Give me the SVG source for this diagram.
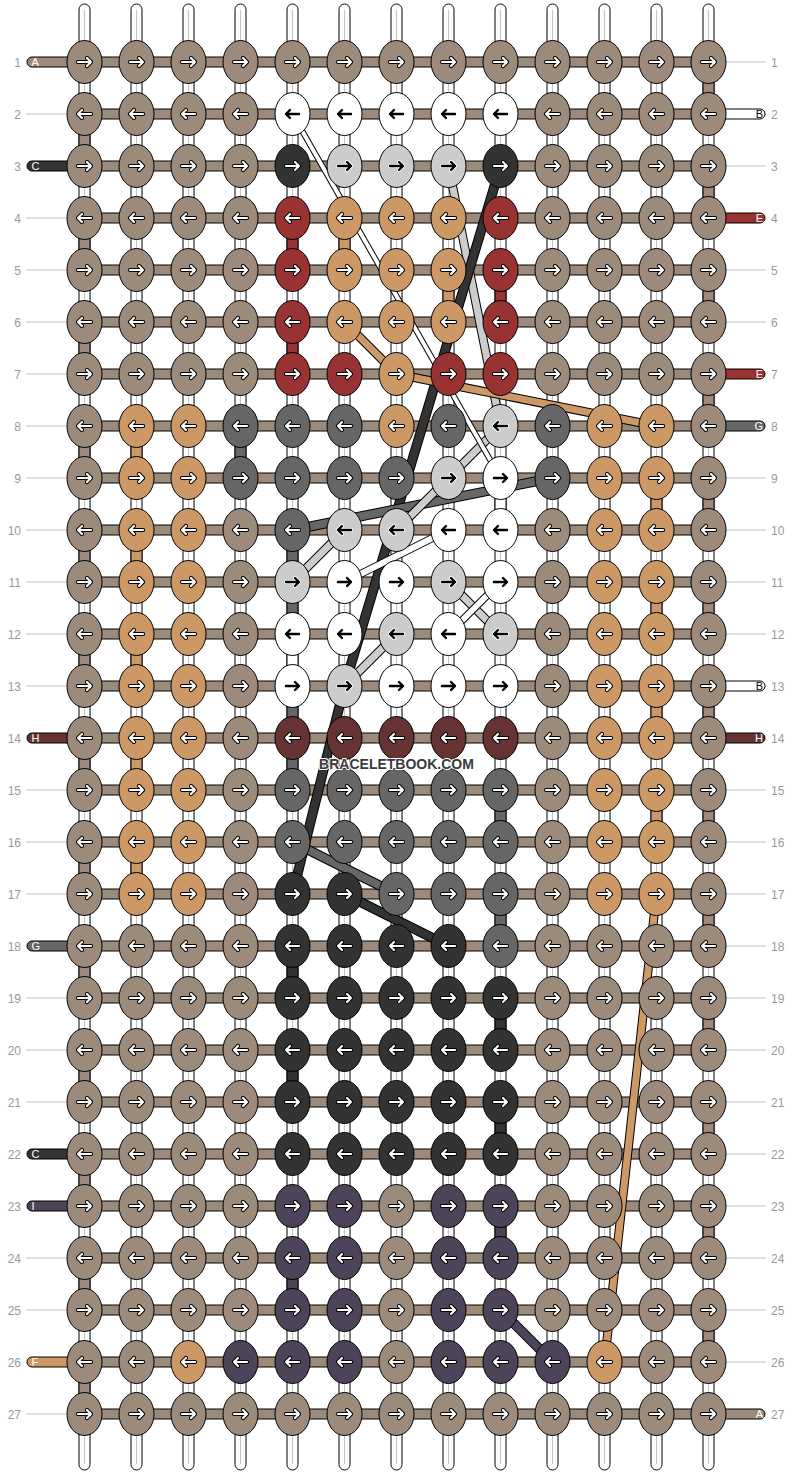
<svg xmlns="http://www.w3.org/2000/svg" xmlns:xlink="http://www.w3.org/1999/xlink" width="792" height="1476" viewBox="0 0 792 1476">
<style>
.vs{fill:#fff;stroke:#000;stroke-width:1}
.vc{fill:none;stroke:#c4c4c4;stroke-width:1.2}
.hb{fill:#9c8b7a;stroke:#000;stroke-width:1}
.cn{stroke:#000;stroke-width:1}
.ln{fill:none;stroke:#c0c0c0;stroke-width:1}
.b{fill:#9c8b7a}.w{fill:#fff}.k{fill:#333}.l{fill:#ccc}.r{fill:#993333}.t{fill:#cc9966}.g{fill:#666}.m{fill:#663333}.p{fill:#4d4459}
.num{font-family:"Liberation Sans",Arial,sans-serif;font-size:12px;fill:#999}
.lt{font-family:"Liberation Sans",Arial,sans-serif;font-size:11px;fill:#fff}
.ltb{font-family:"Liberation Sans",Arial,sans-serif;font-size:11px;fill:#000}
.wm{font-family:"Liberation Sans",Arial,sans-serif;font-size:14px;font-weight:bold;fill:#3a3a3a;stroke:#fff;stroke-width:2;paint-order:stroke;stroke-linejoin:round}
</style>
<defs>
<ellipse id="e" rx="17.5" ry="21.5" stroke="#000" stroke-width="1"/>
<g id="wr" fill="none" stroke-linecap="round" stroke-linejoin="round"><path d="M-6.5,0H6.5M2.5,-4L6.5,0L2.5,4" stroke="#000" stroke-width="4.2"/><path d="M-6.5,0H6.5M2.5,-4L6.5,0L2.5,4" stroke="#fff" stroke-width="2.2"/></g>
<g id="wl" fill="none" stroke-linecap="round" stroke-linejoin="round"><path d="M6.5,0H-6.5M-2.5,-4L-6.5,0L-2.5,4" stroke="#000" stroke-width="4.2"/><path d="M6.5,0H-6.5M-2.5,-4L-6.5,0L-2.5,4" stroke="#fff" stroke-width="2.2"/></g>
<g id="br" fill="none" stroke-linecap="round" stroke-linejoin="round"><path d="M-6.5,0H6.5M2.5,-4L6.5,0L2.5,4" stroke="#fff" stroke-width="4.2"/><path d="M-6.5,0H6.5M2.5,-4L6.5,0L2.5,4" stroke="#000" stroke-width="2.4"/></g>
<g id="bl" fill="none" stroke-linecap="round" stroke-linejoin="round"><path d="M6.5,0H-6.5M-2.5,-4L-6.5,0L-2.5,4" stroke="#fff" stroke-width="4.2"/><path d="M6.5,0H-6.5M-2.5,-4L-6.5,0L-2.5,4" stroke="#000" stroke-width="2.4"/></g>
</defs>
<rect width="792" height="1476" fill="#fff"/>
<g id="connectors">
<g id="strings">
<rect class="vs" x="79" y="4" width="11" height="1466" rx="5.5"/>
<rect class="vs" x="131" y="4" width="11" height="1466" rx="5.5"/>
<rect class="vs" x="183" y="4" width="11" height="1466" rx="5.5"/>
<rect class="vs" x="235" y="4" width="11" height="1466" rx="5.5"/>
<rect class="vs" x="287" y="4" width="11" height="1466" rx="5.5"/>
<rect class="vs" x="339" y="4" width="11" height="1466" rx="5.5"/>
<rect class="vs" x="391" y="4" width="11" height="1466" rx="5.5"/>
<rect class="vs" x="443" y="4" width="11" height="1466" rx="5.5"/>
<rect class="vs" x="495" y="4" width="11" height="1466" rx="5.5"/>
<rect class="vs" x="547" y="4" width="11" height="1466" rx="5.5"/>
<rect class="vs" x="599" y="4" width="11" height="1466" rx="5.5"/>
<rect class="vs" x="651" y="4" width="11" height="1466" rx="5.5"/>
<rect class="vs" x="703" y="4" width="11" height="1466" rx="5.5"/>
<path class="vc" d="M84.5 10V1464M136.5 10V1464M188.5 10V1464M240.5 10V1464M292.5 10V1464M344.5 10V1464M396.5 10V1464M448.5 10V1464M500.5 10V1464M552.5 10V1464M604.5 10V1464M656.5 10V1464M708.5 10V1464"/>
</g>
<g id="rowbars">
<rect class="hb" x="84.5" y="57" width="624" height="10"/>
<rect class="hb" x="84.5" y="109" width="624" height="10"/>
<rect class="hb" x="84.5" y="161" width="624" height="10"/>
<rect class="hb" x="84.5" y="213" width="624" height="10"/>
<rect class="hb" x="84.5" y="265" width="624" height="10"/>
<rect class="hb" x="84.5" y="317" width="624" height="10"/>
<rect class="hb" x="84.5" y="369" width="624" height="10"/>
<rect class="hb" x="84.5" y="421" width="624" height="10"/>
<rect class="hb" x="84.5" y="473" width="624" height="10"/>
<rect class="hb" x="84.5" y="525" width="624" height="10"/>
<rect class="hb" x="84.5" y="577" width="624" height="10"/>
<rect class="hb" x="84.5" y="629" width="624" height="10"/>
<rect class="hb" x="84.5" y="681" width="624" height="10"/>
<rect class="hb" x="84.5" y="733" width="624" height="10"/>
<rect class="hb" x="84.5" y="785" width="624" height="10"/>
<rect class="hb" x="84.5" y="837" width="624" height="10"/>
<rect class="hb" x="84.5" y="889" width="624" height="10"/>
<rect class="hb" x="84.5" y="941" width="624" height="10"/>
<rect class="hb" x="84.5" y="993" width="624" height="10"/>
<rect class="hb" x="84.5" y="1045" width="624" height="10"/>
<rect class="hb" x="84.5" y="1097" width="624" height="10"/>
<rect class="hb" x="84.5" y="1149" width="624" height="10"/>
<rect class="hb" x="84.5" y="1201" width="624" height="10"/>
<rect class="hb" x="84.5" y="1253" width="624" height="10"/>
<rect class="hb" x="84.5" y="1305" width="624" height="10"/>
<rect class="hb" x="84.5" y="1357" width="624" height="10"/>
<rect class="hb" x="84.5" y="1409" width="624" height="10"/>
</g>
<g id="labelbars">
<rect class="cn b" x="27" y="57" width="55" height="10" rx="5"/>
<rect class="cn k" x="27" y="161" width="55" height="10" rx="5"/>
<rect class="cn m" x="27" y="733" width="55" height="10" rx="5"/>
<rect class="cn g" x="27" y="941" width="55" height="10" rx="5"/>
<rect class="cn k" x="27" y="1149" width="55" height="10" rx="5"/>
<rect class="cn p" x="27" y="1201" width="55" height="10" rx="5"/>
<rect class="cn t" x="27" y="1357" width="55" height="10" rx="5"/>
<rect class="cn w" x="710" y="109" width="55" height="10" rx="5"/>
<rect class="cn r" x="710" y="213" width="55" height="10" rx="5"/>
<rect class="cn r" x="710" y="369" width="55" height="10" rx="5"/>
<rect class="cn g" x="710" y="421" width="55" height="10" rx="5"/>
<rect class="cn w" x="710" y="681" width="55" height="10" rx="5"/>
<rect class="cn m" x="710" y="733" width="55" height="10" rx="5"/>
<rect class="cn b" x="710" y="1409" width="55" height="10" rx="5"/>
<path class="ln" d="M26 114H67M26 218H67M26 270H67M26 322H67M26 374H67M26 426H67M26 478H67M26 530H67M26 582H67M26 634H67M26 686H67M26 790H67M26 842H67M26 894H67M26 998H67M26 1050H67M26 1102H67M26 1258H67M26 1310H67M26 1414H67"/>
<path class="ln" d="M727 62H766M727 166H766M727 270H766M727 322H766M727 478H766M727 530H766M727 582H766M727 634H766M727 790H766M727 842H766M727 894H766M727 946H766M727 998H766M727 1050H766M727 1102H766M727 1154H766M727 1206H766M727 1258H766M727 1310H766M727 1362H766"/>
</g>
<g id="drops">
<rect class="cn b" x="703" y="78" width="11" height="20"/>
<rect class="cn b" x="79" y="130" width="11" height="20"/>
<rect class="cn b" x="703" y="182" width="11" height="20"/>
<rect class="cn b" x="79" y="234" width="11" height="20"/>
<rect class="cn b" x="703" y="286" width="11" height="20"/>
<rect class="cn b" x="79" y="338" width="11" height="20"/>
<rect class="cn b" x="703" y="390" width="11" height="20"/>
<rect class="cn b" x="79" y="442" width="11" height="20"/>
<rect class="cn b" x="703" y="494" width="11" height="20"/>
<rect class="cn b" x="79" y="546" width="11" height="20"/>
<rect class="cn b" x="703" y="598" width="11" height="20"/>
<rect class="cn b" x="79" y="650" width="11" height="20"/>
<rect class="cn b" x="703" y="702" width="11" height="20"/>
<rect class="cn b" x="79" y="754" width="11" height="20"/>
<rect class="cn b" x="703" y="806" width="11" height="20"/>
<rect class="cn b" x="79" y="858" width="11" height="20"/>
<rect class="cn b" x="703" y="910" width="11" height="20"/>
<rect class="cn b" x="79" y="962" width="11" height="20"/>
<rect class="cn b" x="703" y="1014" width="11" height="20"/>
<rect class="cn b" x="79" y="1066" width="11" height="20"/>
<rect class="cn b" x="703" y="1118" width="11" height="20"/>
<rect class="cn b" x="79" y="1170" width="11" height="20"/>
<rect class="cn b" x="703" y="1222" width="11" height="20"/>
<rect class="cn b" x="79" y="1274" width="11" height="20"/>
<rect class="cn b" x="703" y="1326" width="11" height="20"/>
<rect class="cn b" x="79" y="1378" width="11" height="20"/>
<rect class="cn r" x="287" y="234" width="11" height="20"/>
<rect class="cn r" x="495" y="286" width="11" height="20"/>
<rect class="cn r" x="287" y="338" width="11" height="20"/>
<rect class="cn t" x="339" y="234" width="11" height="20"/>
<rect class="cn t" x="443" y="286" width="11" height="20"/>
<rect class="cn t" x="131" y="442" width="11" height="20"/>
<rect class="cn t" x="651" y="494" width="11" height="20"/>
<rect class="cn t" x="131" y="546" width="11" height="20"/>
<rect class="cn t" x="651" y="598" width="11" height="20"/>
<rect class="cn t" x="131" y="650" width="11" height="20"/>
<rect class="cn t" x="651" y="702" width="11" height="20"/>
<rect class="cn t" x="131" y="754" width="11" height="20"/>
<rect class="cn t" x="651" y="806" width="11" height="20"/>
<rect class="cn t" x="131" y="858" width="11" height="20"/>
<rect class="cn g" x="235" y="442" width="11" height="20"/>
<rect class="cn g" x="287" y="546" width="11" height="20"/>
<rect class="cn g" x="287" y="598" width="11" height="20"/>
<rect class="cn g" x="287" y="702" width="11" height="20"/>
<rect class="cn g" x="287" y="754" width="11" height="20"/>
<rect class="cn g" x="495" y="806" width="11" height="20"/>
<rect class="cn g" x="495" y="910" width="11" height="20"/>
<rect class="cn w" x="495" y="494" width="11" height="20"/>
<rect class="cn w" x="287" y="650" width="11" height="20"/>
<rect class="cn k" x="287" y="962" width="11" height="20"/>
<rect class="cn k" x="495" y="1014" width="11" height="20"/>
<rect class="cn k" x="287" y="1066" width="11" height="20"/>
<rect class="cn k" x="495" y="1118" width="11" height="20"/>
<rect class="cn p" x="495" y="1222" width="11" height="20"/>
<rect class="cn p" x="287" y="1274" width="11" height="20"/>
</g>
<g id="carried" fill="none" stroke-linecap="round" stroke-linejoin="round">
<path d="M448.5 166L500.5 426" stroke="#000" stroke-width="9"/><path d="M448.5 166L500.5 426" stroke="#ccc" stroke-width="7"/>
<path d="M500.5 166L344.5 686L292.5 894" stroke="#000" stroke-width="10"/><path d="M500.5 166L344.5 686L292.5 894" stroke="#333" stroke-width="8"/>
<path d="M552.5 478L292.5 530" stroke="#000" stroke-width="10"/><path d="M552.5 478L292.5 530" stroke="#666" stroke-width="8"/>
<path d="M500.5 426L396.5 530" stroke="#000" stroke-width="9"/><path d="M500.5 426L396.5 530" stroke="#ccc" stroke-width="7"/>
<path d="M344.5 530L292.5 582" stroke="#000" stroke-width="9"/><path d="M344.5 530L292.5 582" stroke="#ccc" stroke-width="7"/>
<path d="M448.5 530L344.5 582" stroke="#000" stroke-width="8"/><path d="M448.5 530L344.5 582" stroke="#fff" stroke-width="6"/>
<path d="M292.5 114L500.5 478" stroke="#000" stroke-width="6"/><path d="M292.5 114L500.5 478" stroke="#fff" stroke-width="4"/>
<path d="M448.5 582L500.5 634" stroke="#000" stroke-width="9"/><path d="M448.5 582L500.5 634" stroke="#ccc" stroke-width="7"/>
<path d="M500.5 582L448.5 634" stroke="#000" stroke-width="8"/><path d="M500.5 582L448.5 634" stroke="#fff" stroke-width="6"/>
<path d="M396.5 634L344.5 686" stroke="#000" stroke-width="9"/><path d="M396.5 634L344.5 686" stroke="#ccc" stroke-width="7"/>
<path d="M344.5 322L396.5 374L656.5 426" stroke="#000" stroke-width="9"/><path d="M344.5 322L396.5 374L656.5 426" stroke="#cc9966" stroke-width="7"/>
<path d="M344.5 894L448.5 946" stroke="#000" stroke-width="10"/><path d="M344.5 894L448.5 946" stroke="#333" stroke-width="8"/>
<path d="M292.5 842L396.5 894" stroke="#000" stroke-width="10"/><path d="M292.5 842L396.5 894" stroke="#666" stroke-width="8"/>
<path d="M656.5 894L604.5 1362" stroke="#000" stroke-width="9"/><path d="M656.5 894L604.5 1362" stroke="#cc9966" stroke-width="7"/>
<path d="M500.5 1310L552.5 1362" stroke="#000" stroke-width="10"/><path d="M500.5 1310L552.5 1362" stroke="#4d4459" stroke-width="8"/>
</g>
</g>
<g id="knots">
<g id="k1-1" transform="translate(84.5,62)"><use href="#e" class="b"/><use href="#wr"/></g>
<g id="k1-2" transform="translate(136.5,62)"><use href="#e" class="b"/><use href="#wr"/></g>
<g id="k1-3" transform="translate(188.5,62)"><use href="#e" class="b"/><use href="#wr"/></g>
<g id="k1-4" transform="translate(240.5,62)"><use href="#e" class="b"/><use href="#wr"/></g>
<g id="k1-5" transform="translate(292.5,62)"><use href="#e" class="b"/><use href="#wr"/></g>
<g id="k1-6" transform="translate(344.5,62)"><use href="#e" class="b"/><use href="#wr"/></g>
<g id="k1-7" transform="translate(396.5,62)"><use href="#e" class="b"/><use href="#wr"/></g>
<g id="k1-8" transform="translate(448.5,62)"><use href="#e" class="b"/><use href="#wr"/></g>
<g id="k1-9" transform="translate(500.5,62)"><use href="#e" class="b"/><use href="#wr"/></g>
<g id="k1-10" transform="translate(552.5,62)"><use href="#e" class="b"/><use href="#wr"/></g>
<g id="k1-11" transform="translate(604.5,62)"><use href="#e" class="b"/><use href="#wr"/></g>
<g id="k1-12" transform="translate(656.5,62)"><use href="#e" class="b"/><use href="#wr"/></g>
<g id="k1-13" transform="translate(708.5,62)"><use href="#e" class="b"/><use href="#wr"/></g>
<g id="k2-1" transform="translate(84.5,114)"><use href="#e" class="b"/><use href="#wl"/></g>
<g id="k2-2" transform="translate(136.5,114)"><use href="#e" class="b"/><use href="#wl"/></g>
<g id="k2-3" transform="translate(188.5,114)"><use href="#e" class="b"/><use href="#wl"/></g>
<g id="k2-4" transform="translate(240.5,114)"><use href="#e" class="b"/><use href="#wl"/></g>
<g id="k2-5" transform="translate(292.5,114)"><use href="#e" class="w"/><use href="#bl"/></g>
<g id="k2-6" transform="translate(344.5,114)"><use href="#e" class="w"/><use href="#bl"/></g>
<g id="k2-7" transform="translate(396.5,114)"><use href="#e" class="w"/><use href="#bl"/></g>
<g id="k2-8" transform="translate(448.5,114)"><use href="#e" class="w"/><use href="#bl"/></g>
<g id="k2-9" transform="translate(500.5,114)"><use href="#e" class="w"/><use href="#bl"/></g>
<g id="k2-10" transform="translate(552.5,114)"><use href="#e" class="b"/><use href="#wl"/></g>
<g id="k2-11" transform="translate(604.5,114)"><use href="#e" class="b"/><use href="#wl"/></g>
<g id="k2-12" transform="translate(656.5,114)"><use href="#e" class="b"/><use href="#wl"/></g>
<g id="k2-13" transform="translate(708.5,114)"><use href="#e" class="b"/><use href="#wl"/></g>
<g id="k3-1" transform="translate(84.5,166)"><use href="#e" class="b"/><use href="#wr"/></g>
<g id="k3-2" transform="translate(136.5,166)"><use href="#e" class="b"/><use href="#wr"/></g>
<g id="k3-3" transform="translate(188.5,166)"><use href="#e" class="b"/><use href="#wr"/></g>
<g id="k3-4" transform="translate(240.5,166)"><use href="#e" class="b"/><use href="#wr"/></g>
<g id="k3-5" transform="translate(292.5,166)"><use href="#e" class="k"/><use href="#wr"/></g>
<g id="k3-6" transform="translate(344.5,166)"><use href="#e" class="l"/><use href="#br"/></g>
<g id="k3-7" transform="translate(396.5,166)"><use href="#e" class="l"/><use href="#br"/></g>
<g id="k3-8" transform="translate(448.5,166)"><use href="#e" class="l"/><use href="#br"/></g>
<g id="k3-9" transform="translate(500.5,166)"><use href="#e" class="k"/><use href="#wr"/></g>
<g id="k3-10" transform="translate(552.5,166)"><use href="#e" class="b"/><use href="#wr"/></g>
<g id="k3-11" transform="translate(604.5,166)"><use href="#e" class="b"/><use href="#wr"/></g>
<g id="k3-12" transform="translate(656.5,166)"><use href="#e" class="b"/><use href="#wr"/></g>
<g id="k3-13" transform="translate(708.5,166)"><use href="#e" class="b"/><use href="#wr"/></g>
<g id="k4-1" transform="translate(84.5,218)"><use href="#e" class="b"/><use href="#wl"/></g>
<g id="k4-2" transform="translate(136.5,218)"><use href="#e" class="b"/><use href="#wl"/></g>
<g id="k4-3" transform="translate(188.5,218)"><use href="#e" class="b"/><use href="#wl"/></g>
<g id="k4-4" transform="translate(240.5,218)"><use href="#e" class="b"/><use href="#wl"/></g>
<g id="k4-5" transform="translate(292.5,218)"><use href="#e" class="r"/><use href="#wl"/></g>
<g id="k4-6" transform="translate(344.5,218)"><use href="#e" class="t"/><use href="#wl"/></g>
<g id="k4-7" transform="translate(396.5,218)"><use href="#e" class="t"/><use href="#wl"/></g>
<g id="k4-8" transform="translate(448.5,218)"><use href="#e" class="t"/><use href="#wl"/></g>
<g id="k4-9" transform="translate(500.5,218)"><use href="#e" class="r"/><use href="#wl"/></g>
<g id="k4-10" transform="translate(552.5,218)"><use href="#e" class="b"/><use href="#wl"/></g>
<g id="k4-11" transform="translate(604.5,218)"><use href="#e" class="b"/><use href="#wl"/></g>
<g id="k4-12" transform="translate(656.5,218)"><use href="#e" class="b"/><use href="#wl"/></g>
<g id="k4-13" transform="translate(708.5,218)"><use href="#e" class="b"/><use href="#wl"/></g>
<g id="k5-1" transform="translate(84.5,270)"><use href="#e" class="b"/><use href="#wr"/></g>
<g id="k5-2" transform="translate(136.5,270)"><use href="#e" class="b"/><use href="#wr"/></g>
<g id="k5-3" transform="translate(188.5,270)"><use href="#e" class="b"/><use href="#wr"/></g>
<g id="k5-4" transform="translate(240.5,270)"><use href="#e" class="b"/><use href="#wr"/></g>
<g id="k5-5" transform="translate(292.5,270)"><use href="#e" class="r"/><use href="#wr"/></g>
<g id="k5-6" transform="translate(344.5,270)"><use href="#e" class="t"/><use href="#wr"/></g>
<g id="k5-7" transform="translate(396.5,270)"><use href="#e" class="t"/><use href="#wr"/></g>
<g id="k5-8" transform="translate(448.5,270)"><use href="#e" class="t"/><use href="#wr"/></g>
<g id="k5-9" transform="translate(500.5,270)"><use href="#e" class="r"/><use href="#wr"/></g>
<g id="k5-10" transform="translate(552.5,270)"><use href="#e" class="b"/><use href="#wr"/></g>
<g id="k5-11" transform="translate(604.5,270)"><use href="#e" class="b"/><use href="#wr"/></g>
<g id="k5-12" transform="translate(656.5,270)"><use href="#e" class="b"/><use href="#wr"/></g>
<g id="k5-13" transform="translate(708.5,270)"><use href="#e" class="b"/><use href="#wr"/></g>
<g id="k6-1" transform="translate(84.5,322)"><use href="#e" class="b"/><use href="#wl"/></g>
<g id="k6-2" transform="translate(136.5,322)"><use href="#e" class="b"/><use href="#wl"/></g>
<g id="k6-3" transform="translate(188.5,322)"><use href="#e" class="b"/><use href="#wl"/></g>
<g id="k6-4" transform="translate(240.5,322)"><use href="#e" class="b"/><use href="#wl"/></g>
<g id="k6-5" transform="translate(292.5,322)"><use href="#e" class="r"/><use href="#wl"/></g>
<g id="k6-6" transform="translate(344.5,322)"><use href="#e" class="t"/><use href="#wl"/></g>
<g id="k6-7" transform="translate(396.5,322)"><use href="#e" class="t"/><use href="#wl"/></g>
<g id="k6-8" transform="translate(448.5,322)"><use href="#e" class="t"/><use href="#wl"/></g>
<g id="k6-9" transform="translate(500.5,322)"><use href="#e" class="r"/><use href="#wl"/></g>
<g id="k6-10" transform="translate(552.5,322)"><use href="#e" class="b"/><use href="#wl"/></g>
<g id="k6-11" transform="translate(604.5,322)"><use href="#e" class="b"/><use href="#wl"/></g>
<g id="k6-12" transform="translate(656.5,322)"><use href="#e" class="b"/><use href="#wl"/></g>
<g id="k6-13" transform="translate(708.5,322)"><use href="#e" class="b"/><use href="#wl"/></g>
<g id="k7-1" transform="translate(84.5,374)"><use href="#e" class="b"/><use href="#wr"/></g>
<g id="k7-2" transform="translate(136.5,374)"><use href="#e" class="b"/><use href="#wr"/></g>
<g id="k7-3" transform="translate(188.5,374)"><use href="#e" class="b"/><use href="#wr"/></g>
<g id="k7-4" transform="translate(240.5,374)"><use href="#e" class="b"/><use href="#wr"/></g>
<g id="k7-5" transform="translate(292.5,374)"><use href="#e" class="r"/><use href="#wr"/></g>
<g id="k7-6" transform="translate(344.5,374)"><use href="#e" class="r"/><use href="#wr"/></g>
<g id="k7-7" transform="translate(396.5,374)"><use href="#e" class="t"/><use href="#wr"/></g>
<g id="k7-8" transform="translate(448.5,374)"><use href="#e" class="r"/><use href="#wr"/></g>
<g id="k7-9" transform="translate(500.5,374)"><use href="#e" class="r"/><use href="#wr"/></g>
<g id="k7-10" transform="translate(552.5,374)"><use href="#e" class="b"/><use href="#wr"/></g>
<g id="k7-11" transform="translate(604.5,374)"><use href="#e" class="b"/><use href="#wr"/></g>
<g id="k7-12" transform="translate(656.5,374)"><use href="#e" class="b"/><use href="#wr"/></g>
<g id="k7-13" transform="translate(708.5,374)"><use href="#e" class="b"/><use href="#wr"/></g>
<g id="k8-1" transform="translate(84.5,426)"><use href="#e" class="b"/><use href="#wl"/></g>
<g id="k8-2" transform="translate(136.5,426)"><use href="#e" class="t"/><use href="#wl"/></g>
<g id="k8-3" transform="translate(188.5,426)"><use href="#e" class="t"/><use href="#wl"/></g>
<g id="k8-4" transform="translate(240.5,426)"><use href="#e" class="g"/><use href="#wl"/></g>
<g id="k8-5" transform="translate(292.5,426)"><use href="#e" class="g"/><use href="#wl"/></g>
<g id="k8-6" transform="translate(344.5,426)"><use href="#e" class="g"/><use href="#wl"/></g>
<g id="k8-7" transform="translate(396.5,426)"><use href="#e" class="t"/><use href="#wl"/></g>
<g id="k8-8" transform="translate(448.5,426)"><use href="#e" class="g"/><use href="#wl"/></g>
<g id="k8-9" transform="translate(500.5,426)"><use href="#e" class="l"/><use href="#bl"/></g>
<g id="k8-10" transform="translate(552.5,426)"><use href="#e" class="g"/><use href="#wl"/></g>
<g id="k8-11" transform="translate(604.5,426)"><use href="#e" class="t"/><use href="#wl"/></g>
<g id="k8-12" transform="translate(656.5,426)"><use href="#e" class="t"/><use href="#wl"/></g>
<g id="k8-13" transform="translate(708.5,426)"><use href="#e" class="b"/><use href="#wl"/></g>
<g id="k9-1" transform="translate(84.5,478)"><use href="#e" class="b"/><use href="#wr"/></g>
<g id="k9-2" transform="translate(136.5,478)"><use href="#e" class="t"/><use href="#wr"/></g>
<g id="k9-3" transform="translate(188.5,478)"><use href="#e" class="t"/><use href="#wr"/></g>
<g id="k9-4" transform="translate(240.5,478)"><use href="#e" class="g"/><use href="#wr"/></g>
<g id="k9-5" transform="translate(292.5,478)"><use href="#e" class="g"/><use href="#wr"/></g>
<g id="k9-6" transform="translate(344.5,478)"><use href="#e" class="g"/><use href="#wr"/></g>
<g id="k9-7" transform="translate(396.5,478)"><use href="#e" class="g"/><use href="#wr"/></g>
<g id="k9-8" transform="translate(448.5,478)"><use href="#e" class="l"/><use href="#br"/></g>
<g id="k9-9" transform="translate(500.5,478)"><use href="#e" class="w"/><use href="#br"/></g>
<g id="k9-10" transform="translate(552.5,478)"><use href="#e" class="g"/><use href="#wr"/></g>
<g id="k9-11" transform="translate(604.5,478)"><use href="#e" class="t"/><use href="#wr"/></g>
<g id="k9-12" transform="translate(656.5,478)"><use href="#e" class="t"/><use href="#wr"/></g>
<g id="k9-13" transform="translate(708.5,478)"><use href="#e" class="b"/><use href="#wr"/></g>
<g id="k10-1" transform="translate(84.5,530)"><use href="#e" class="b"/><use href="#wl"/></g>
<g id="k10-2" transform="translate(136.5,530)"><use href="#e" class="t"/><use href="#wl"/></g>
<g id="k10-3" transform="translate(188.5,530)"><use href="#e" class="t"/><use href="#wl"/></g>
<g id="k10-4" transform="translate(240.5,530)"><use href="#e" class="b"/><use href="#wl"/></g>
<g id="k10-5" transform="translate(292.5,530)"><use href="#e" class="g"/><use href="#wl"/></g>
<g id="k10-6" transform="translate(344.5,530)"><use href="#e" class="l"/><use href="#bl"/></g>
<g id="k10-7" transform="translate(396.5,530)"><use href="#e" class="l"/><use href="#bl"/></g>
<g id="k10-8" transform="translate(448.5,530)"><use href="#e" class="w"/><use href="#bl"/></g>
<g id="k10-9" transform="translate(500.5,530)"><use href="#e" class="w"/><use href="#bl"/></g>
<g id="k10-10" transform="translate(552.5,530)"><use href="#e" class="b"/><use href="#wl"/></g>
<g id="k10-11" transform="translate(604.5,530)"><use href="#e" class="t"/><use href="#wl"/></g>
<g id="k10-12" transform="translate(656.5,530)"><use href="#e" class="t"/><use href="#wl"/></g>
<g id="k10-13" transform="translate(708.5,530)"><use href="#e" class="b"/><use href="#wl"/></g>
<g id="k11-1" transform="translate(84.5,582)"><use href="#e" class="b"/><use href="#wr"/></g>
<g id="k11-2" transform="translate(136.5,582)"><use href="#e" class="t"/><use href="#wr"/></g>
<g id="k11-3" transform="translate(188.5,582)"><use href="#e" class="t"/><use href="#wr"/></g>
<g id="k11-4" transform="translate(240.5,582)"><use href="#e" class="b"/><use href="#wr"/></g>
<g id="k11-5" transform="translate(292.5,582)"><use href="#e" class="l"/><use href="#br"/></g>
<g id="k11-6" transform="translate(344.5,582)"><use href="#e" class="w"/><use href="#br"/></g>
<g id="k11-7" transform="translate(396.5,582)"><use href="#e" class="w"/><use href="#br"/></g>
<g id="k11-8" transform="translate(448.5,582)"><use href="#e" class="l"/><use href="#br"/></g>
<g id="k11-9" transform="translate(500.5,582)"><use href="#e" class="w"/><use href="#br"/></g>
<g id="k11-10" transform="translate(552.5,582)"><use href="#e" class="b"/><use href="#wr"/></g>
<g id="k11-11" transform="translate(604.5,582)"><use href="#e" class="t"/><use href="#wr"/></g>
<g id="k11-12" transform="translate(656.5,582)"><use href="#e" class="t"/><use href="#wr"/></g>
<g id="k11-13" transform="translate(708.5,582)"><use href="#e" class="b"/><use href="#wr"/></g>
<g id="k12-1" transform="translate(84.5,634)"><use href="#e" class="b"/><use href="#wl"/></g>
<g id="k12-2" transform="translate(136.5,634)"><use href="#e" class="t"/><use href="#wl"/></g>
<g id="k12-3" transform="translate(188.5,634)"><use href="#e" class="t"/><use href="#wl"/></g>
<g id="k12-4" transform="translate(240.5,634)"><use href="#e" class="b"/><use href="#wl"/></g>
<g id="k12-5" transform="translate(292.5,634)"><use href="#e" class="w"/><use href="#bl"/></g>
<g id="k12-6" transform="translate(344.5,634)"><use href="#e" class="w"/><use href="#bl"/></g>
<g id="k12-7" transform="translate(396.5,634)"><use href="#e" class="l"/><use href="#bl"/></g>
<g id="k12-8" transform="translate(448.5,634)"><use href="#e" class="w"/><use href="#bl"/></g>
<g id="k12-9" transform="translate(500.5,634)"><use href="#e" class="l"/><use href="#bl"/></g>
<g id="k12-10" transform="translate(552.5,634)"><use href="#e" class="b"/><use href="#wl"/></g>
<g id="k12-11" transform="translate(604.5,634)"><use href="#e" class="t"/><use href="#wl"/></g>
<g id="k12-12" transform="translate(656.5,634)"><use href="#e" class="t"/><use href="#wl"/></g>
<g id="k12-13" transform="translate(708.5,634)"><use href="#e" class="b"/><use href="#wl"/></g>
<g id="k13-1" transform="translate(84.5,686)"><use href="#e" class="b"/><use href="#wr"/></g>
<g id="k13-2" transform="translate(136.5,686)"><use href="#e" class="t"/><use href="#wr"/></g>
<g id="k13-3" transform="translate(188.5,686)"><use href="#e" class="t"/><use href="#wr"/></g>
<g id="k13-4" transform="translate(240.5,686)"><use href="#e" class="b"/><use href="#wr"/></g>
<g id="k13-5" transform="translate(292.5,686)"><use href="#e" class="w"/><use href="#br"/></g>
<g id="k13-6" transform="translate(344.5,686)"><use href="#e" class="l"/><use href="#br"/></g>
<g id="k13-7" transform="translate(396.5,686)"><use href="#e" class="w"/><use href="#br"/></g>
<g id="k13-8" transform="translate(448.5,686)"><use href="#e" class="w"/><use href="#br"/></g>
<g id="k13-9" transform="translate(500.5,686)"><use href="#e" class="w"/><use href="#br"/></g>
<g id="k13-10" transform="translate(552.5,686)"><use href="#e" class="b"/><use href="#wr"/></g>
<g id="k13-11" transform="translate(604.5,686)"><use href="#e" class="t"/><use href="#wr"/></g>
<g id="k13-12" transform="translate(656.5,686)"><use href="#e" class="t"/><use href="#wr"/></g>
<g id="k13-13" transform="translate(708.5,686)"><use href="#e" class="b"/><use href="#wr"/></g>
<g id="k14-1" transform="translate(84.5,738)"><use href="#e" class="b"/><use href="#wl"/></g>
<g id="k14-2" transform="translate(136.5,738)"><use href="#e" class="t"/><use href="#wl"/></g>
<g id="k14-3" transform="translate(188.5,738)"><use href="#e" class="t"/><use href="#wl"/></g>
<g id="k14-4" transform="translate(240.5,738)"><use href="#e" class="b"/><use href="#wl"/></g>
<g id="k14-5" transform="translate(292.5,738)"><use href="#e" class="m"/><use href="#wl"/></g>
<g id="k14-6" transform="translate(344.5,738)"><use href="#e" class="m"/><use href="#wl"/></g>
<g id="k14-7" transform="translate(396.5,738)"><use href="#e" class="m"/><use href="#wl"/></g>
<g id="k14-8" transform="translate(448.5,738)"><use href="#e" class="m"/><use href="#wl"/></g>
<g id="k14-9" transform="translate(500.5,738)"><use href="#e" class="m"/><use href="#wl"/></g>
<g id="k14-10" transform="translate(552.5,738)"><use href="#e" class="b"/><use href="#wl"/></g>
<g id="k14-11" transform="translate(604.5,738)"><use href="#e" class="t"/><use href="#wl"/></g>
<g id="k14-12" transform="translate(656.5,738)"><use href="#e" class="t"/><use href="#wl"/></g>
<g id="k14-13" transform="translate(708.5,738)"><use href="#e" class="b"/><use href="#wl"/></g>
<g id="k15-1" transform="translate(84.5,790)"><use href="#e" class="b"/><use href="#wr"/></g>
<g id="k15-2" transform="translate(136.5,790)"><use href="#e" class="t"/><use href="#wr"/></g>
<g id="k15-3" transform="translate(188.5,790)"><use href="#e" class="t"/><use href="#wr"/></g>
<g id="k15-4" transform="translate(240.5,790)"><use href="#e" class="b"/><use href="#wr"/></g>
<g id="k15-5" transform="translate(292.5,790)"><use href="#e" class="g"/><use href="#wr"/></g>
<g id="k15-6" transform="translate(344.5,790)"><use href="#e" class="g"/><use href="#wr"/></g>
<g id="k15-7" transform="translate(396.5,790)"><use href="#e" class="g"/><use href="#wr"/></g>
<g id="k15-8" transform="translate(448.5,790)"><use href="#e" class="g"/><use href="#wr"/></g>
<g id="k15-9" transform="translate(500.5,790)"><use href="#e" class="g"/><use href="#wr"/></g>
<g id="k15-10" transform="translate(552.5,790)"><use href="#e" class="b"/><use href="#wr"/></g>
<g id="k15-11" transform="translate(604.5,790)"><use href="#e" class="t"/><use href="#wr"/></g>
<g id="k15-12" transform="translate(656.5,790)"><use href="#e" class="t"/><use href="#wr"/></g>
<g id="k15-13" transform="translate(708.5,790)"><use href="#e" class="b"/><use href="#wr"/></g>
<g id="k16-1" transform="translate(84.5,842)"><use href="#e" class="b"/><use href="#wl"/></g>
<g id="k16-2" transform="translate(136.5,842)"><use href="#e" class="t"/><use href="#wl"/></g>
<g id="k16-3" transform="translate(188.5,842)"><use href="#e" class="t"/><use href="#wl"/></g>
<g id="k16-4" transform="translate(240.5,842)"><use href="#e" class="b"/><use href="#wl"/></g>
<g id="k16-5" transform="translate(292.5,842)"><use href="#e" class="g"/><use href="#wl"/></g>
<g id="k16-6" transform="translate(344.5,842)"><use href="#e" class="g"/><use href="#wl"/></g>
<g id="k16-7" transform="translate(396.5,842)"><use href="#e" class="g"/><use href="#wl"/></g>
<g id="k16-8" transform="translate(448.5,842)"><use href="#e" class="g"/><use href="#wl"/></g>
<g id="k16-9" transform="translate(500.5,842)"><use href="#e" class="g"/><use href="#wl"/></g>
<g id="k16-10" transform="translate(552.5,842)"><use href="#e" class="b"/><use href="#wl"/></g>
<g id="k16-11" transform="translate(604.5,842)"><use href="#e" class="t"/><use href="#wl"/></g>
<g id="k16-12" transform="translate(656.5,842)"><use href="#e" class="t"/><use href="#wl"/></g>
<g id="k16-13" transform="translate(708.5,842)"><use href="#e" class="b"/><use href="#wl"/></g>
<g id="k17-1" transform="translate(84.5,894)"><use href="#e" class="b"/><use href="#wr"/></g>
<g id="k17-2" transform="translate(136.5,894)"><use href="#e" class="t"/><use href="#wr"/></g>
<g id="k17-3" transform="translate(188.5,894)"><use href="#e" class="t"/><use href="#wr"/></g>
<g id="k17-4" transform="translate(240.5,894)"><use href="#e" class="b"/><use href="#wr"/></g>
<g id="k17-5" transform="translate(292.5,894)"><use href="#e" class="k"/><use href="#wr"/></g>
<g id="k17-6" transform="translate(344.5,894)"><use href="#e" class="k"/><use href="#wr"/></g>
<g id="k17-7" transform="translate(396.5,894)"><use href="#e" class="g"/><use href="#wr"/></g>
<g id="k17-8" transform="translate(448.5,894)"><use href="#e" class="g"/><use href="#wr"/></g>
<g id="k17-9" transform="translate(500.5,894)"><use href="#e" class="g"/><use href="#wr"/></g>
<g id="k17-10" transform="translate(552.5,894)"><use href="#e" class="b"/><use href="#wr"/></g>
<g id="k17-11" transform="translate(604.5,894)"><use href="#e" class="t"/><use href="#wr"/></g>
<g id="k17-12" transform="translate(656.5,894)"><use href="#e" class="t"/><use href="#wr"/></g>
<g id="k17-13" transform="translate(708.5,894)"><use href="#e" class="b"/><use href="#wr"/></g>
<g id="k18-1" transform="translate(84.5,946)"><use href="#e" class="b"/><use href="#wl"/></g>
<g id="k18-2" transform="translate(136.5,946)"><use href="#e" class="b"/><use href="#wl"/></g>
<g id="k18-3" transform="translate(188.5,946)"><use href="#e" class="b"/><use href="#wl"/></g>
<g id="k18-4" transform="translate(240.5,946)"><use href="#e" class="b"/><use href="#wl"/></g>
<g id="k18-5" transform="translate(292.5,946)"><use href="#e" class="k"/><use href="#wl"/></g>
<g id="k18-6" transform="translate(344.5,946)"><use href="#e" class="k"/><use href="#wl"/></g>
<g id="k18-7" transform="translate(396.5,946)"><use href="#e" class="k"/><use href="#wl"/></g>
<g id="k18-8" transform="translate(448.5,946)"><use href="#e" class="k"/><use href="#wl"/></g>
<g id="k18-9" transform="translate(500.5,946)"><use href="#e" class="g"/><use href="#wl"/></g>
<g id="k18-10" transform="translate(552.5,946)"><use href="#e" class="b"/><use href="#wl"/></g>
<g id="k18-11" transform="translate(604.5,946)"><use href="#e" class="b"/><use href="#wl"/></g>
<g id="k18-12" transform="translate(656.5,946)"><use href="#e" class="b"/><use href="#wl"/></g>
<g id="k18-13" transform="translate(708.5,946)"><use href="#e" class="b"/><use href="#wl"/></g>
<g id="k19-1" transform="translate(84.5,998)"><use href="#e" class="b"/><use href="#wr"/></g>
<g id="k19-2" transform="translate(136.5,998)"><use href="#e" class="b"/><use href="#wr"/></g>
<g id="k19-3" transform="translate(188.5,998)"><use href="#e" class="b"/><use href="#wr"/></g>
<g id="k19-4" transform="translate(240.5,998)"><use href="#e" class="b"/><use href="#wr"/></g>
<g id="k19-5" transform="translate(292.5,998)"><use href="#e" class="k"/><use href="#wr"/></g>
<g id="k19-6" transform="translate(344.5,998)"><use href="#e" class="k"/><use href="#wr"/></g>
<g id="k19-7" transform="translate(396.5,998)"><use href="#e" class="k"/><use href="#wr"/></g>
<g id="k19-8" transform="translate(448.5,998)"><use href="#e" class="k"/><use href="#wr"/></g>
<g id="k19-9" transform="translate(500.5,998)"><use href="#e" class="k"/><use href="#wr"/></g>
<g id="k19-10" transform="translate(552.5,998)"><use href="#e" class="b"/><use href="#wr"/></g>
<g id="k19-11" transform="translate(604.5,998)"><use href="#e" class="b"/><use href="#wr"/></g>
<g id="k19-12" transform="translate(656.5,998)"><use href="#e" class="b"/><use href="#wr"/></g>
<g id="k19-13" transform="translate(708.5,998)"><use href="#e" class="b"/><use href="#wr"/></g>
<g id="k20-1" transform="translate(84.5,1050)"><use href="#e" class="b"/><use href="#wl"/></g>
<g id="k20-2" transform="translate(136.5,1050)"><use href="#e" class="b"/><use href="#wl"/></g>
<g id="k20-3" transform="translate(188.5,1050)"><use href="#e" class="b"/><use href="#wl"/></g>
<g id="k20-4" transform="translate(240.5,1050)"><use href="#e" class="b"/><use href="#wl"/></g>
<g id="k20-5" transform="translate(292.5,1050)"><use href="#e" class="k"/><use href="#wl"/></g>
<g id="k20-6" transform="translate(344.5,1050)"><use href="#e" class="k"/><use href="#wl"/></g>
<g id="k20-7" transform="translate(396.5,1050)"><use href="#e" class="k"/><use href="#wl"/></g>
<g id="k20-8" transform="translate(448.5,1050)"><use href="#e" class="k"/><use href="#wl"/></g>
<g id="k20-9" transform="translate(500.5,1050)"><use href="#e" class="k"/><use href="#wl"/></g>
<g id="k20-10" transform="translate(552.5,1050)"><use href="#e" class="b"/><use href="#wl"/></g>
<g id="k20-11" transform="translate(604.5,1050)"><use href="#e" class="b"/><use href="#wl"/></g>
<g id="k20-12" transform="translate(656.5,1050)"><use href="#e" class="b"/><use href="#wl"/></g>
<g id="k20-13" transform="translate(708.5,1050)"><use href="#e" class="b"/><use href="#wl"/></g>
<g id="k21-1" transform="translate(84.5,1102)"><use href="#e" class="b"/><use href="#wr"/></g>
<g id="k21-2" transform="translate(136.5,1102)"><use href="#e" class="b"/><use href="#wr"/></g>
<g id="k21-3" transform="translate(188.5,1102)"><use href="#e" class="b"/><use href="#wr"/></g>
<g id="k21-4" transform="translate(240.5,1102)"><use href="#e" class="b"/><use href="#wr"/></g>
<g id="k21-5" transform="translate(292.5,1102)"><use href="#e" class="k"/><use href="#wr"/></g>
<g id="k21-6" transform="translate(344.5,1102)"><use href="#e" class="k"/><use href="#wr"/></g>
<g id="k21-7" transform="translate(396.5,1102)"><use href="#e" class="k"/><use href="#wr"/></g>
<g id="k21-8" transform="translate(448.5,1102)"><use href="#e" class="k"/><use href="#wr"/></g>
<g id="k21-9" transform="translate(500.5,1102)"><use href="#e" class="k"/><use href="#wr"/></g>
<g id="k21-10" transform="translate(552.5,1102)"><use href="#e" class="b"/><use href="#wr"/></g>
<g id="k21-11" transform="translate(604.5,1102)"><use href="#e" class="b"/><use href="#wr"/></g>
<g id="k21-12" transform="translate(656.5,1102)"><use href="#e" class="b"/><use href="#wr"/></g>
<g id="k21-13" transform="translate(708.5,1102)"><use href="#e" class="b"/><use href="#wr"/></g>
<g id="k22-1" transform="translate(84.5,1154)"><use href="#e" class="b"/><use href="#wl"/></g>
<g id="k22-2" transform="translate(136.5,1154)"><use href="#e" class="b"/><use href="#wl"/></g>
<g id="k22-3" transform="translate(188.5,1154)"><use href="#e" class="b"/><use href="#wl"/></g>
<g id="k22-4" transform="translate(240.5,1154)"><use href="#e" class="b"/><use href="#wl"/></g>
<g id="k22-5" transform="translate(292.5,1154)"><use href="#e" class="k"/><use href="#wl"/></g>
<g id="k22-6" transform="translate(344.5,1154)"><use href="#e" class="k"/><use href="#wl"/></g>
<g id="k22-7" transform="translate(396.5,1154)"><use href="#e" class="k"/><use href="#wl"/></g>
<g id="k22-8" transform="translate(448.5,1154)"><use href="#e" class="k"/><use href="#wl"/></g>
<g id="k22-9" transform="translate(500.5,1154)"><use href="#e" class="k"/><use href="#wl"/></g>
<g id="k22-10" transform="translate(552.5,1154)"><use href="#e" class="b"/><use href="#wl"/></g>
<g id="k22-11" transform="translate(604.5,1154)"><use href="#e" class="b"/><use href="#wl"/></g>
<g id="k22-12" transform="translate(656.5,1154)"><use href="#e" class="b"/><use href="#wl"/></g>
<g id="k22-13" transform="translate(708.5,1154)"><use href="#e" class="b"/><use href="#wl"/></g>
<g id="k23-1" transform="translate(84.5,1206)"><use href="#e" class="b"/><use href="#wr"/></g>
<g id="k23-2" transform="translate(136.5,1206)"><use href="#e" class="b"/><use href="#wr"/></g>
<g id="k23-3" transform="translate(188.5,1206)"><use href="#e" class="b"/><use href="#wr"/></g>
<g id="k23-4" transform="translate(240.5,1206)"><use href="#e" class="b"/><use href="#wr"/></g>
<g id="k23-5" transform="translate(292.5,1206)"><use href="#e" class="p"/><use href="#wr"/></g>
<g id="k23-6" transform="translate(344.5,1206)"><use href="#e" class="p"/><use href="#wr"/></g>
<g id="k23-7" transform="translate(396.5,1206)"><use href="#e" class="b"/><use href="#wr"/></g>
<g id="k23-8" transform="translate(448.5,1206)"><use href="#e" class="p"/><use href="#wr"/></g>
<g id="k23-9" transform="translate(500.5,1206)"><use href="#e" class="p"/><use href="#wr"/></g>
<g id="k23-10" transform="translate(552.5,1206)"><use href="#e" class="b"/><use href="#wr"/></g>
<g id="k23-11" transform="translate(604.5,1206)"><use href="#e" class="b"/><use href="#wr"/></g>
<g id="k23-12" transform="translate(656.5,1206)"><use href="#e" class="b"/><use href="#wr"/></g>
<g id="k23-13" transform="translate(708.5,1206)"><use href="#e" class="b"/><use href="#wr"/></g>
<g id="k24-1" transform="translate(84.5,1258)"><use href="#e" class="b"/><use href="#wl"/></g>
<g id="k24-2" transform="translate(136.5,1258)"><use href="#e" class="b"/><use href="#wl"/></g>
<g id="k24-3" transform="translate(188.5,1258)"><use href="#e" class="b"/><use href="#wl"/></g>
<g id="k24-4" transform="translate(240.5,1258)"><use href="#e" class="b"/><use href="#wl"/></g>
<g id="k24-5" transform="translate(292.5,1258)"><use href="#e" class="p"/><use href="#wl"/></g>
<g id="k24-6" transform="translate(344.5,1258)"><use href="#e" class="p"/><use href="#wl"/></g>
<g id="k24-7" transform="translate(396.5,1258)"><use href="#e" class="b"/><use href="#wl"/></g>
<g id="k24-8" transform="translate(448.5,1258)"><use href="#e" class="p"/><use href="#wl"/></g>
<g id="k24-9" transform="translate(500.5,1258)"><use href="#e" class="p"/><use href="#wl"/></g>
<g id="k24-10" transform="translate(552.5,1258)"><use href="#e" class="b"/><use href="#wl"/></g>
<g id="k24-11" transform="translate(604.5,1258)"><use href="#e" class="b"/><use href="#wl"/></g>
<g id="k24-12" transform="translate(656.5,1258)"><use href="#e" class="b"/><use href="#wl"/></g>
<g id="k24-13" transform="translate(708.5,1258)"><use href="#e" class="b"/><use href="#wl"/></g>
<g id="k25-1" transform="translate(84.5,1310)"><use href="#e" class="b"/><use href="#wr"/></g>
<g id="k25-2" transform="translate(136.5,1310)"><use href="#e" class="b"/><use href="#wr"/></g>
<g id="k25-3" transform="translate(188.5,1310)"><use href="#e" class="b"/><use href="#wr"/></g>
<g id="k25-4" transform="translate(240.5,1310)"><use href="#e" class="b"/><use href="#wr"/></g>
<g id="k25-5" transform="translate(292.5,1310)"><use href="#e" class="p"/><use href="#wr"/></g>
<g id="k25-6" transform="translate(344.5,1310)"><use href="#e" class="p"/><use href="#wr"/></g>
<g id="k25-7" transform="translate(396.5,1310)"><use href="#e" class="b"/><use href="#wr"/></g>
<g id="k25-8" transform="translate(448.5,1310)"><use href="#e" class="p"/><use href="#wr"/></g>
<g id="k25-9" transform="translate(500.5,1310)"><use href="#e" class="p"/><use href="#wr"/></g>
<g id="k25-10" transform="translate(552.5,1310)"><use href="#e" class="b"/><use href="#wr"/></g>
<g id="k25-11" transform="translate(604.5,1310)"><use href="#e" class="b"/><use href="#wr"/></g>
<g id="k25-12" transform="translate(656.5,1310)"><use href="#e" class="b"/><use href="#wr"/></g>
<g id="k25-13" transform="translate(708.5,1310)"><use href="#e" class="b"/><use href="#wr"/></g>
<g id="k26-1" transform="translate(84.5,1362)"><use href="#e" class="b"/><use href="#wl"/></g>
<g id="k26-2" transform="translate(136.5,1362)"><use href="#e" class="b"/><use href="#wl"/></g>
<g id="k26-3" transform="translate(188.5,1362)"><use href="#e" class="t"/><use href="#wl"/></g>
<g id="k26-4" transform="translate(240.5,1362)"><use href="#e" class="p"/><use href="#wl"/></g>
<g id="k26-5" transform="translate(292.5,1362)"><use href="#e" class="p"/><use href="#wl"/></g>
<g id="k26-6" transform="translate(344.5,1362)"><use href="#e" class="p"/><use href="#wl"/></g>
<g id="k26-7" transform="translate(396.5,1362)"><use href="#e" class="b"/><use href="#wl"/></g>
<g id="k26-8" transform="translate(448.5,1362)"><use href="#e" class="p"/><use href="#wl"/></g>
<g id="k26-9" transform="translate(500.5,1362)"><use href="#e" class="p"/><use href="#wl"/></g>
<g id="k26-10" transform="translate(552.5,1362)"><use href="#e" class="p"/><use href="#wl"/></g>
<g id="k26-11" transform="translate(604.5,1362)"><use href="#e" class="t"/><use href="#wl"/></g>
<g id="k26-12" transform="translate(656.5,1362)"><use href="#e" class="b"/><use href="#wl"/></g>
<g id="k26-13" transform="translate(708.5,1362)"><use href="#e" class="b"/><use href="#wl"/></g>
<g id="k27-1" transform="translate(84.5,1414)"><use href="#e" class="b"/><use href="#wr"/></g>
<g id="k27-2" transform="translate(136.5,1414)"><use href="#e" class="b"/><use href="#wr"/></g>
<g id="k27-3" transform="translate(188.5,1414)"><use href="#e" class="b"/><use href="#wr"/></g>
<g id="k27-4" transform="translate(240.5,1414)"><use href="#e" class="b"/><use href="#wr"/></g>
<g id="k27-5" transform="translate(292.5,1414)"><use href="#e" class="b"/><use href="#wr"/></g>
<g id="k27-6" transform="translate(344.5,1414)"><use href="#e" class="b"/><use href="#wr"/></g>
<g id="k27-7" transform="translate(396.5,1414)"><use href="#e" class="b"/><use href="#wr"/></g>
<g id="k27-8" transform="translate(448.5,1414)"><use href="#e" class="b"/><use href="#wr"/></g>
<g id="k27-9" transform="translate(500.5,1414)"><use href="#e" class="b"/><use href="#wr"/></g>
<g id="k27-10" transform="translate(552.5,1414)"><use href="#e" class="b"/><use href="#wr"/></g>
<g id="k27-11" transform="translate(604.5,1414)"><use href="#e" class="b"/><use href="#wr"/></g>
<g id="k27-12" transform="translate(656.5,1414)"><use href="#e" class="b"/><use href="#wr"/></g>
<g id="k27-13" transform="translate(708.5,1414)"><use href="#e" class="b"/><use href="#wr"/></g>
</g>
<g id="labels">
<text class="lt" x="31.5" y="66">A</text>
<text class="lt" x="31.5" y="170">C</text>
<text class="lt" x="31.5" y="742">H</text>
<text class="lt" x="31.5" y="950">G</text>
<text class="lt" x="31.5" y="1158">C</text>
<text class="lt" x="31.5" y="1210">I</text>
<text class="lt" x="31.5" y="1366">F</text>
<text class="ltb" x="763" y="118" text-anchor="end">B</text>
<text class="lt" x="763" y="222" text-anchor="end">E</text>
<text class="lt" x="763" y="378" text-anchor="end">E</text>
<text class="lt" x="763" y="430" text-anchor="end">G</text>
<text class="ltb" x="763" y="690" text-anchor="end">B</text>
<text class="lt" x="763" y="742" text-anchor="end">H</text>
<text class="lt" x="763" y="1418" text-anchor="end">A</text>
</g>
<g id="rownumbers" class="num">
<g text-anchor="end">
<text x="21" y="66.5">1</text><text x="21" y="118.5">2</text><text x="21" y="170.5">3</text><text x="21" y="222.5">4</text><text x="21" y="274.5">5</text><text x="21" y="326.5">6</text><text x="21" y="378.5">7</text><text x="21" y="430.5">8</text><text x="21" y="482.5">9</text><text x="21" y="534.5">10</text><text x="21" y="586.5">11</text><text x="21" y="638.5">12</text><text x="21" y="690.5">13</text><text x="21" y="742.5">14</text><text x="21" y="794.5">15</text><text x="21" y="846.5">16</text><text x="21" y="898.5">17</text><text x="21" y="950.5">18</text><text x="21" y="1002.5">19</text><text x="21" y="1054.5">20</text><text x="21" y="1106.5">21</text><text x="21" y="1158.5">22</text><text x="21" y="1210.5">23</text><text x="21" y="1262.5">24</text><text x="21" y="1314.5">25</text><text x="21" y="1366.5">26</text><text x="21" y="1418.5">27</text>
</g>
<g>
<text x="771" y="66.5">1</text><text x="771" y="118.5">2</text><text x="771" y="170.5">3</text><text x="771" y="222.5">4</text><text x="771" y="274.5">5</text><text x="771" y="326.5">6</text><text x="771" y="378.5">7</text><text x="771" y="430.5">8</text><text x="771" y="482.5">9</text><text x="771" y="534.5">10</text><text x="771" y="586.5">11</text><text x="771" y="638.5">12</text><text x="771" y="690.5">13</text><text x="771" y="742.5">14</text><text x="771" y="794.5">15</text><text x="771" y="846.5">16</text><text x="771" y="898.5">17</text><text x="771" y="950.5">18</text><text x="771" y="1002.5">19</text><text x="771" y="1054.5">20</text><text x="771" y="1106.5">21</text><text x="771" y="1158.5">22</text><text x="771" y="1210.5">23</text><text x="771" y="1262.5">24</text><text x="771" y="1314.5">25</text><text x="771" y="1366.5">26</text><text x="771" y="1418.5">27</text>
</g>
</g>
<text class="wm" x="396.5" y="769" text-anchor="middle">BRACELETBOOK.COM</text>
</svg>
